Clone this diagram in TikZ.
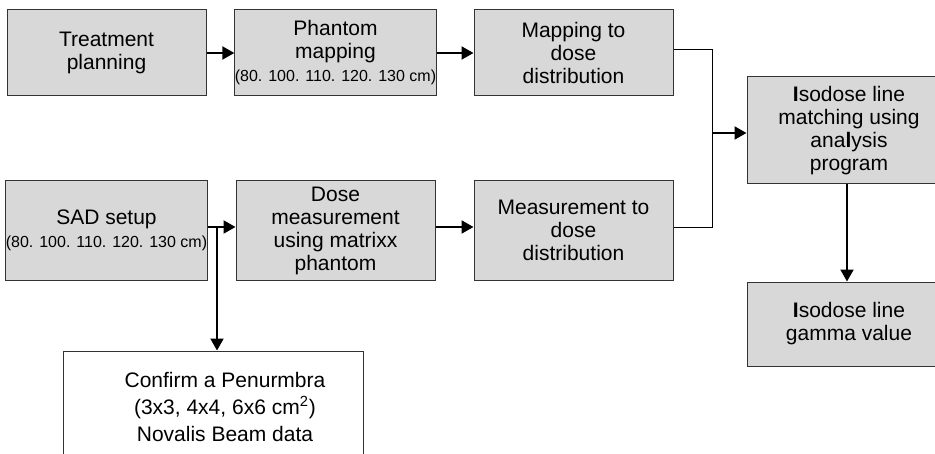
\documentclass[tikz,border=0pt]{standalone}
\usepackage{fontspec}
\setmainfont{Liberation Sans}
\usetikzlibrary{arrows.meta}
\definecolor{boxgray}{RGB}{216,216,216}
\newcommand{\smalltxt}[1]{{\fontsize{8}{9}\selectfont #1}}

\begin{document}
\begin{tikzpicture}[x=0.5pt,y=-0.5pt]
      \tikzset{box/.style={draw=black!80,line width=0.5pt,fill=boxgray,align=center,inner sep=0pt,
          minimum width=99.5pt,font=\fontsize{10.5}{11.5}\selectfont},
        arr/.style={line width=1pt,-{Triangle[length=6pt,width=6.5pt]}},
        thin line/.style={line width=0.5pt}}
      \useasboundingbox (0,0) rectangle (935,454);
      \clip (0,0) rectangle (935,454);
      % upper row
      \node[box,minimum height=43pt] (plan) at (106.5,53) {Treatment\\planning};
      \node[box,minimum height=43pt] (phantom) at (335.5,53) {Phantom\\mapping\\\smalltxt{(80. 100. 110. 120. 130 cm)}};
      \node[box,minimum height=43pt] (mapdose) at (573.5,53) {Mapping to\\dose\\distribution};
      % lower row
      \node[box,minimum height=49.5pt] (sad) at (106.5,230.5) {SAD setup\\\smalltxt{(80. 100. 110. 120. 130 cm)}};
      \node[box,minimum height=49.5pt] (dosemeas) at (335.5,230.5) {Dose\\measurement\\using matrixx\\phantom};
      \node[box,minimum height=49.5pt] (measdose) at (573.5,230.5) {Measurement to\\dose\\distribution};
      % right column
      \node[box,minimum width=102pt,minimum height=53.5pt] (match) at (849,130.5) {\textbf{I}sodose line\\matching using\\ana\textbf{l}ysis\\program};
      \node[box,minimum width=102pt,minimum height=42pt] (gamma) at (849,324) {\textbf{I}sodose line\\gamma value};
      % confirm box
      \node[box,fill=white,minimum width=150pt,minimum height=57pt] (confirm) at (213,408) {};
      \node[align=center,inner sep=0pt,font=\fontsize{10.5}{13.5}\selectfont] (confirmtext) at (225,407)
        {Confirm a Penurmbra\\(3x3, 4x4, 6x6 cm\textsuperscript{2})\\Novalis Beam data};
      % connectors
      \coordinate (split) at (217,227);
      \coordinate (merge) at (712,133);
      \draw[arr] (plan) -- (phantom);
      \draw[arr] (phantom) -- (mapdose);
      \draw[arr] ([yshift=1.75pt]sad.east) -- ([yshift=1.75pt]dosemeas.west);
      \draw[arr] ([yshift=1.75pt]dosemeas.east) -- ([yshift=1.75pt]measdose.west);
      \draw[arr] (split) -- (split |- confirm.north);
      \draw[thin line] ([yshift=1.5pt]mapdose.east) -| (merge) |- ([yshift=1.75pt]measdose.east);
      \draw[arr] (merge) -- (merge -| match.west);
      \draw[arr] (match.south -| 847,0) -- (gamma.north -| 847,0);
\end{tikzpicture}
\end{document}
